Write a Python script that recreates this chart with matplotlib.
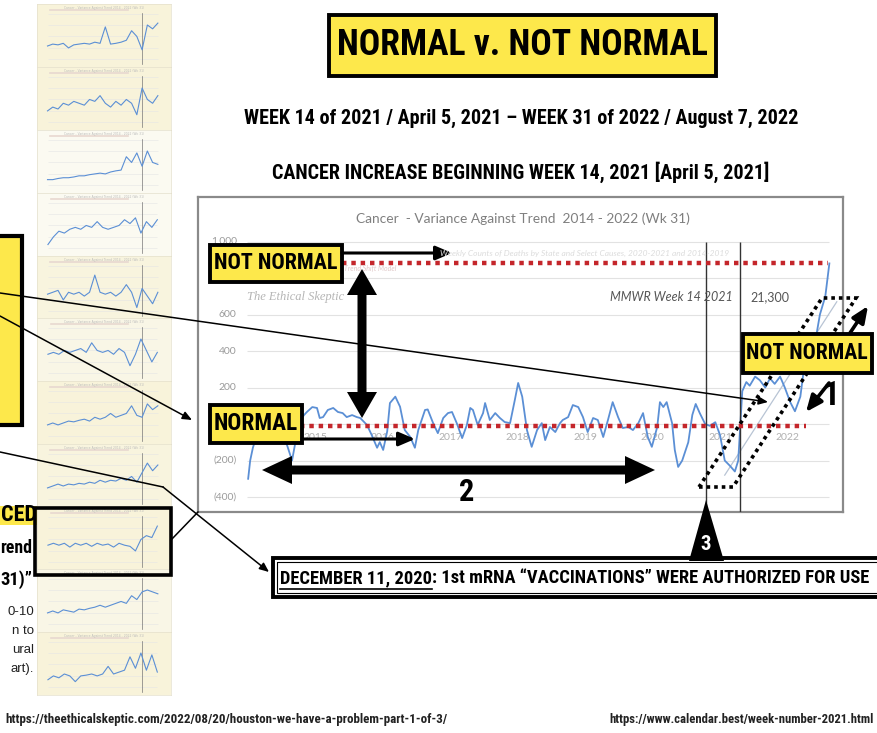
import matplotlib
matplotlib.use('Agg')
import matplotlib.pyplot as plt
from matplotlib import font_manager
from matplotlib.patches import Rectangle, Polygon
import numpy as np

# Cancer - variance against trend, weekly, decimal years
years = [2014.01, 2014.04, 2014.08, 2014.14, 2014.21, 2014.29, 2014.36, 2014.44, 2014.51, 2014.59,
         2014.66, 2014.72, 2014.78, 2014.84, 2014.88, 2014.96, 2015.03, 2015.07, 2015.12, 2015.19,
         2015.27, 2015.34, 2015.41, 2015.47, 2015.55, 2015.62, 2015.67, 2015.77, 2015.84, 2015.92,
         2015.96, 2016.01, 2016.07, 2016.11, 2016.19, 2016.26, 2016.33, 2016.41, 2016.48, 2016.53,
         2016.63, 2016.67, 2016.75, 2016.82, 2016.90, 2016.97, 2017.03, 2017.10, 2017.18, 2017.25,
         2017.30, 2017.34, 2017.41, 2017.49, 2017.52, 2017.59, 2017.67, 2017.74, 2017.81, 2017.89,
         2017.96, 2018.01, 2018.07, 2018.14, 2018.21, 2018.29, 2018.36, 2018.41, 2018.48, 2018.56,
         2018.63, 2018.67, 2018.75, 2018.82, 2018.90, 2018.97, 2019.04, 2019.12, 2019.19, 2019.27,
         2019.34, 2019.41, 2019.49, 2019.56, 2019.64, 2019.71, 2019.79, 2019.86, 2019.93, 2019.99,
         2020.07, 2020.11, 2020.16, 2020.21, 2020.29, 2020.33, 2020.38, 2020.44, 2020.53, 2020.59,
         2020.64, 2020.70, 2020.78, 2020.85, 2020.93, 2021.00, 2021.07, 2021.15, 2021.22, 2021.27,
         2021.33, 2021.39, 2021.44, 2021.52, 2021.59, 2021.67, 2021.74, 2021.81, 2021.89, 2021.96,
         2022.04, 2022.11, 2022.19, 2022.26, 2022.33, 2022.41, 2022.48, 2022.56, 2022.62]
variance = [-300, -200, -130, -60, -20, 10, -10, 20, -40, -120,
            -200, -80, 20, 50, 66, 93, 88, 33, 38, 77,
            88, 66, 60, 38, 49, 38, 33, -5, -60, -130,
            -99, -142, -40, 115, 150, 95, -33, -70, -130, -33,
            77, 80, 5, -50, 33, 60, 66, 5, -77, -5,
            88, 77, -5, 60, 115, 22, 60, 33, 11, 5,
            131, 225, 150, -33, -125, -33, 5, -88, -16, -44,
            5, 22, 38, 104, 93, 38, -44, 33, 22, -71,
            22, 120, 38, -22, -16, -33, 5, 60, -71, -125,
            -16, 120, 93, 120, 5, -142, -235, -200, -100, 50,
            110, 60, 0, -10, 10, -60, -200, -230, -260, -200,
            180, 230, 210, 260, 240, 200, 250, 220, 260, 200,
            120, 70, 150, 350, 300, 450, 600, 700, 880]

year_labels = [2015, 2016, 2017, 2018, 2019, 2020, 2021, 2022]
grid_levels = [1000, 800, 600, 400, 200, 0, -200, -400]
# labels that are not hidden behind the call-out boxes
y_ticks = [1000, 600, 400, 200, -200, -400]
y_tick_labels = ['1,000', '600', '400', '200', '(200)', '(400)']
events = [2020.79, 2021.30]          # vaccine authorization / MMWR week 14 2021
normal_level = -10
not_normal_level = 880
trend_x = [2021.07, 2022.73]
trend_y = [-280, 670]

# left column of small charts (shape of each series, 0..1)
thumbs = [
    [0.35, 0.4, 0.38, 0.42, 0.3, 0.38, 0.4, 0.42, 0.4, 0.45, 0.42, 0.85, 0.4, 0.42, 0.45, 0.5, 0.75, 0.6, 0.25, 0.9, 0.8, 0.95],
    [0.3, 0.4, 0.35, 0.5, 0.45, 0.55, 0.5, 0.45, 0.6, 0.55, 0.7, 0.5, 0.4, 0.55, 0.45, 0.6, 0.5, 0.2, 0.9, 0.6, 0.5, 0.7],
    [0.15, 0.15, 0.18, 0.2, 0.2, 0.22, 0.25, 0.25, 0.28, 0.3, 0.32, 0.3, 0.35, 0.38, 0.4, 0.75, 0.6, 0.85, 0.5, 0.9, 0.6, 0.55],
    [0.1, 0.3, 0.45, 0.4, 0.5, 0.55, 0.5, 0.6, 0.55, 0.7, 0.55, 0.5, 0.55, 0.6, 0.75, 0.65, 0.8, 0.4, 0.7, 0.55, 0.75],
    [0.45, 0.5, 0.55, 0.3, 0.5, 0.45, 0.5, 0.4, 0.5, 0.95, 0.5, 0.45, 0.5, 0.4, 0.5, 0.7, 0.5, 0.1, 0.6, 0.4, 0.2, 0.5],
    [0.5, 0.55, 0.5, 0.6, 0.55, 0.6, 0.65, 0.55, 0.8, 0.6, 0.55, 0.6, 0.5, 0.65, 0.55, 0.2, 0.5, 0.9, 0.6, 0.3, 0.55],
    [0.3, 0.35, 0.3, 0.35, 0.4, 0.38, 0.42, 0.45, 0.4, 0.5, 0.45, 0.5, 0.6, 0.5, 0.55, 0.6, 0.8, 0.55, 0.5, 0.85, 0.7, 0.8],
    [0.3, 0.35, 0.4, 0.35, 0.4, 0.38, 0.42, 0.4, 0.45, 0.42, 0.5, 0.45, 0.5, 0.48, 0.55, 0.5, 0.6, 0.45, 0.7, 0.95, 0.75, 0.9],
    [0.45, 0.5, 0.45, 0.5, 0.4, 0.5, 0.45, 0.5, 0.42, 0.5, 0.45, 0.48, 0.4, 0.5, 0.45, 0.42, 0.3, 0.6, 0.7, 0.65, 0.95],
    [0.3, 0.35, 0.3, 0.38, 0.35, 0.32, 0.4, 0.38, 0.42, 0.45, 0.5, 0.45, 0.5, 0.55, 0.6, 0.55, 0.75, 0.65, 0.85, 0.9, 0.85, 0.8],
    [0.2, 0.3, 0.25, 0.35, 0.3, 0.15, 0.3, 0.32, 0.35, 0.3, 0.35, 0.55, 0.35, 0.4, 0.45, 0.8, 0.5, 0.9, 0.45, 0.85, 0.4],
]

available = {f.name for f in font_manager.fontManager.ttflist}
COND = next((n for n in ['Liberation Sans Narrow', 'Roboto Condensed', 'Open Sans Condensed']
             if n in available), 'Roboto')
YELLOW = '#fde84b'
BLUE = '#5b8fd5'
RED = '#c4262b'

W, H = 877, 733
fig = plt.figure(figsize=(W / 100, H / 100), dpi=100)
fig.patch.set_facecolor('white')
renderer = fig.canvas.get_renderer()


def px_axes(x0, y0, x1, y1):
    return [x0 / W, 1 - y1 / H, (x1 - x0) / W, (y1 - y0) / H]


# ---- left column of thumbnails
tops = [4, 67, 130, 193, 256, 318, 381, 444, 507, 569, 632]
faces = ['#f8f3da', '#f8f3da', '#fbfaf1', '#fbfaf1', '#f8f4de', '#f9f6e6',
         '#f8f3da', '#f8f4de', '#f8f3da', '#f9f6e6', '#f8f3da']
for top, vals, fc in zip(tops, thumbs, faces):
    t_ax = fig.add_axes(px_axes(37, top, 171, top + 63))
    t_ax.set_facecolor(fc)
    for s in t_ax.spines.values():
        s.set_color('#e4e0cc')
        s.set_linewidth(0.5)
    t_ax.set_xticks([])
    t_ax.set_yticks([])
    n = len(vals)
    t_ax.set_xlim(-2, n + 1.5)
    t_ax.set_ylim(-0.2, 1.45)
    t_ax.hlines([0, 0.3, 0.6, 0.9, 1.2], 0, n - 1, color='#e5e5e5', lw=0.4)
    t_ax.axvline(n * 0.82, ymin=0.05, ymax=0.85, color='#777', lw=0.5)
    t_ax.plot(range(n), vals, color=BLUE, lw=0.8)
    t_ax.text(0.5, 0.93, 'Cancer - Variance Against Trend 2014 - 2022 (Wk 31)',
              transform=t_ax.transAxes, ha='center', va='center', fontsize=2.2, color='#bbbbbb')
    t_ax.plot([0.5, n * 0.7], [1.3, 1.3], color='#e8d8d0', lw=1.2)

# ---- main chart
ax = fig.add_axes(px_axes(198, 197, 843, 512))
ax.set_zorder(5)
ax.set_xlim(2013.267, 2022.822)
ax.set_ylim(-482, 1244)
ax.set_xticks([])
ax.set_yticks([])
for s in ax.spines.values():
    s.set_color('#8a8a8a')
    s.set_linewidth(1.6)
ax.hlines(grid_levels, 2014.0, 2022.62, color='#e2e2e2', lw=0.8, zorder=1)
for v, lab in zip(y_ticks, y_tick_labels):
    ax.text(2013.84, v, lab, ha='right', va='center', fontsize=7.5, color='#9a9a9a',
            family='Lato')
for yr in year_labels:
    ax.text(yr, -75, str(yr), ha='center', va='center', fontsize=7.5, color='#b0b0b0',
            family='Lato')
ax.plot(years, variance, color=BLUE, lw=1.3, zorder=3)
ax.plot(trend_x, trend_y, color='#b8c4d4', lw=0.9, zorder=2)
ax.vlines(events, -482, 1000, color='#333333', lw=1.0, zorder=4)
ax.plot([2015.40, 2022.60], [not_normal_level] * 2, color=RED, lw=3.2,
        ls=(0, (1, 1.1)), zorder=4)
ax.plot([2014.78, 2022.27], [normal_level] * 2, color=RED, lw=3.2,
        ls=(0, (1, 1.1)), zorder=4)

# ---- overlay in pixel coordinates
ov = fig.add_axes([0, 0, 1, 1])
ov.set_xlim(0, W)
ov.set_ylim(H, 0)
ov.axis('off')
ov.set_zorder(10)


def put(x, y, s, cap, width=None, ha='center', family=None, weight='bold', **kw):
    fam = family if family else [COND, 'DejaVu Sans']
    t = ov.text(x, y, s, fontsize=cap, ha=ha, va='center', family=fam,
                fontweight=weight, zorder=9, **kw)
    if width:
        w = t.get_window_extent(renderer).width
        if w > width:
            t.set_fontsize(cap * width / w)
    return t


def box(x0, y0, x1, y1, fc=YELLOW, lw=2.8):
    ov.add_patch(Rectangle((x0, y0), x1 - x0, y1 - y0, facecolor=fc,
                           edgecolor='black', lw=lw, zorder=6))


def double_arrow(x0, y0, x1, y1, shaft, head_w, head_l):
    p0 = np.array([x0, y0], float)
    p1 = np.array([x1, y1], float)
    u = (p1 - p0) / np.hypot(*(p1 - p0))
    nrm = np.array([-u[1], u[0]])
    pts = [p0, p0 + u * head_l + nrm * head_w / 2, p0 + u * head_l + nrm * shaft / 2,
           p1 - u * head_l + nrm * shaft / 2, p1 - u * head_l + nrm * head_w / 2, p1,
           p1 - u * head_l - nrm * head_w / 2, p1 - u * head_l - nrm * shaft / 2,
           p0 + u * head_l - nrm * shaft / 2, p0 + u * head_l - nrm * head_w / 2]
    ov.add_patch(Polygon(pts, closed=True, facecolor='black', edgecolor='none', zorder=7))


def arrow(p0, p1, lw=1.2, ms=10, z=8):
    ov.annotate('', xy=p1, xytext=p0, zorder=z,
                arrowprops=dict(arrowstyle='-|>,head_length=0.7,head_width=0.3', lw=lw,
                                color='black', mutation_scale=ms, shrinkA=0, shrinkB=0))


# headings
box(329, 15, 716, 76)
put(522, 45, 'NORMAL v. NOT NORMAL', 41, width=372)
put(521, 118, 'WEEK 14 of 2021 / April 5, 2021 \u2013 WEEK 31 of 2022 / August 7, 2022', 19, width=553)
put(521, 172, 'CANCER INCREASE BEGINNING WEEK 14, 2021 [April 5, 2021]', 19, width=498)

# chart texts
put(523, 219, 'Cancer  - Variance Against Trend  2014 - 2022 (Wk 31)', 11, width=333,
    family=['Lato', 'DejaVu Sans'], weight='normal', color='#7f7f7f')
put(585, 253, 'Weekly Counts of Deaths by State and Select Causes, 2020-2021 and 2014-2019',
    6, ha='center', family=['Lato', 'DejaVu Sans'], weight='normal', color='#dcdcdc',
    style='italic')
put(370, 268, 'Trend Shift Model', 5, ha='center', family=['Lato', 'DejaVu Sans'],
    weight='normal', color='#e0c8c8', style='italic')
put(296, 297, 'The Ethical Skeptic', 9, family=['Liberation Serif', 'DejaVu Serif'],
    weight='normal', color='#b5b5b5', style='italic')
put(733, 297, 'MMWR Week 14 2021', 9, ha='right', family=['Lato', 'DejaVu Sans'],
    weight='normal', color='#555555', style='italic')
put(770, 297, '21,300', 9, family=['Lato', 'DejaVu Sans'], weight='normal', color='#555555')

# dotted parallelogram round the 2021-2022 rise (sits under the call-out box)
ov.add_patch(Polygon([(699, 487), (733, 487), (856, 298), (822, 298)], closed=True,
                     fill=False, edgecolor='black', lw=2.6, ls=(0, (1, 1.1)), zorder=5))

# annotation boxes
box(210, 245, 342, 282)
put(276, 263, 'NOT NORMAL', 25, width=124)
box(210, 405, 302, 443)
put(256, 424, 'NORMAL', 25, width=84)
box(743, 334, 872, 373)
put(807, 353, 'NOT NORMAL', 25, width=122)

arrow((342, 253), (452, 253), lw=2.2, ms=14)
arrow((302, 439), (415, 439), lw=2.2, ms=14)
double_arrow(362, 269, 362, 418, 9, 30, 26)
double_arrow(262, 470, 655, 470, 9, 28, 30)
put(467, 492, '2', 22)
arrow((850, 333), (868, 306), lw=2.6, ms=14)
arrow((829, 383), (806, 412), lw=2.6, ms=14)
put(831, 396, '1', 24)

# triangle "3"
ov.add_patch(Polygon([(689, 561), (724, 561), (706, 500)], closed=True,
                     facecolor='black', zorder=7))
put(706, 545, '3', 15, color='white')

# December box
ov.add_patch(Rectangle((273, 558), 610, 39, facecolor='white', edgecolor='black',
                       lw=2.8, zorder=6))
ov.add_patch(Rectangle((277, 562), 606, 31, facecolor='none', edgecolor='black',
                       lw=0.8, zorder=6))
full = 'DECEMBER 11, 2020: 1st mRNA \u201cVACCINATIONS\u201d WERE AUTHORIZED FOR USE'
probe = put(280, 578, full, 18, width=592, ha='left')
fs = probe.get_fontsize()
probe.remove()
p1 = put(280, 578, 'DECEMBER 11, 2020', fs, ha='left')
x_end = 280 + p1.get_window_extent(renderer).width
put(x_end, 578, ': 1st mRNA \u201cVACCINATIONS\u201d WERE AUTHORIZED FOR USE', fs, ha='left')
ov.plot([280, x_end], [589, 589], color='black', lw=1.2, zorder=8)

# left side pieces
ov.add_patch(Rectangle((-10, 236), 32, 189, facecolor=YELLOW, edgecolor='black',
                       lw=3, zorder=6))
ov.add_patch(Rectangle((0, 506), 37, 19, facecolor=YELLOW, edgecolor='none', zorder=6))
put(37, 515, 'CED', 16, ha='right', width=36)
put(32, 548, 'rend', 16, ha='right', width=32)
put(32, 580, '31)\u201d', 16, ha='right', width=32)
for yy, s in zip([612, 631, 650, 669], ['0-10', 'n to', 'ural', 'art).']):
    put(34, yy, s, 9.5, ha='right', family=['Liberation Sans', 'DejaVu Sans'],
        weight='normal', color='#222222')
ov.add_patch(Rectangle((35, 508), 136, 67, facecolor='none', edgecolor='black',
                       lw=2.6, zorder=7))

# connector lines
arrow((0, 293), (768, 402), lw=1.1, ms=8)
arrow((0, 316), (192, 420), lw=1.1, ms=8)
ov.plot([0, 163], [452, 487], color='black', lw=1.1, zorder=8)
arrow((163, 487), (269, 572), lw=1.1, ms=8)
ov.plot([171, 198], [540, 512], color='black', lw=1.1, zorder=8)

# sources
put(226, 720, 'https://theethicalskeptic.com/2022/08/20/houston-we-have-a-problem-part-1-of-3/',
    10, width=443, color='#222222')
put(742, 720, 'https://www.calendar.best/week-number-2021.html', 10, width=264, color='#222222')

fig.savefig('out.png', dpi=100)
